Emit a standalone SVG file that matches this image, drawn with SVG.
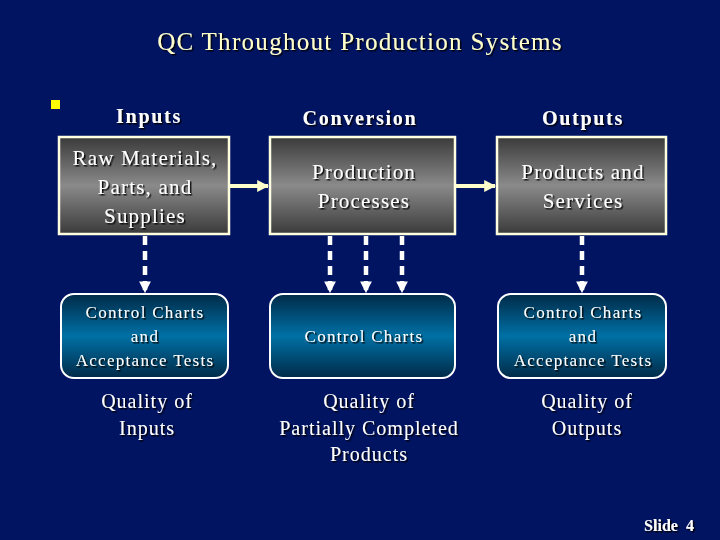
<svg xmlns="http://www.w3.org/2000/svg" width="720" height="540" viewBox="0 0 720 540">
<defs>
<linearGradient id="gGray" x1="0" y1="0" x2="0" y2="1">
<stop offset="0" stop-color="#3a3a3a"/><stop offset="0.5" stop-color="#8a8a8a"/><stop offset="1" stop-color="#3a3a3a"/>
</linearGradient>
<linearGradient id="gTeal" x1="0" y1="0" x2="0" y2="1">
<stop offset="0" stop-color="#002a48"/><stop offset="0.5" stop-color="#0070a4"/><stop offset="1" stop-color="#002a48"/>
</linearGradient>
<filter id="sh" x="-10%" y="-10%" width="120%" height="130%">
<feDropShadow dx="1.5" dy="1.5" stdDeviation="0.3" flood-color="#000" flood-opacity="0.9"/>
</filter>
<marker id="ah" viewBox="0 0 10 10" refX="9" refY="5" markerWidth="3" markerHeight="3" orient="auto" markerUnits="strokeWidth">
<path d="M0,0 L10,5 L0,10 z" fill="#ffffcc"/>
</marker>
<marker id="ahw" viewBox="0 0 10 10" refX="9" refY="5" markerWidth="2.6" markerHeight="2.6" orient="auto" markerUnits="strokeWidth">
<path d="M0,0 L10,5 L0,10 z" fill="#ffffff"/>
</marker>
<style>
text{font-family:"Liberation Serif","Times New Roman",serif;fill:#ffffff;text-anchor:middle;filter:url(#sh)}
.title{font-size:25px;fill:#ffffcc;letter-spacing:1.3px}
.hdr{font-size:20px;font-weight:bold;letter-spacing:1.7px}
.bx{font-size:21px;letter-spacing:1.2px}
.rb{font-size:17px;letter-spacing:1.3px}
.q{font-size:20px;letter-spacing:1px}
.box{fill:url(#gGray);stroke:#ffffe0;stroke-width:2.5}
.rbox{fill:url(#gTeal);stroke:#ffffff;stroke-width:2}
.harr{stroke:#ffffcc;stroke-width:4;fill:none}
.darr{stroke:#ffffff;stroke-width:4.5;stroke-dasharray:9 6;fill:none}
</style>
</defs>
<rect width="720" height="540" fill="#011462"/>
<text class="title" x="360" y="50">QC Throughout Production Systems</text>
<rect x="51" y="100" width="9" height="9" fill="#ffff00"/>
<text class="hdr" x="149" y="123">Inputs</text>
<text class="hdr" x="360" y="125">Conversion</text>
<text class="hdr" x="583" y="125">Outputs</text>

<g id="connectors">
<line class="harr" x1="229" y1="186" x2="268" y2="186" marker-end="url(#ah)"/>
<line class="harr" x1="456" y1="186" x2="495" y2="186" marker-end="url(#ah)"/>
<line class="darr" x1="145" y1="236" x2="145" y2="292" marker-end="url(#ahw)"/>
<line class="darr" x1="330" y1="236" x2="330" y2="292" marker-end="url(#ahw)"/>
<line class="darr" x1="366" y1="236" x2="366" y2="292" marker-end="url(#ahw)"/>
<line class="darr" x1="402" y1="236" x2="402" y2="292" marker-end="url(#ahw)"/>
<line class="darr" x1="582" y1="236" x2="582" y2="292" marker-end="url(#ahw)"/>
</g>

<g id="raw">
<rect class="box" x="59" y="137" width="170" height="97"/>
<text class="bx" x="145" y="165">Raw Materials,</text>
<text class="bx" x="145" y="194">Parts, and</text>
<text class="bx" x="145" y="223">Supplies</text>
</g>
<g id="production">
<rect class="box" x="270" y="137" width="185" height="97"/>
<text class="bx" x="364" y="179">Production</text>
<text class="bx" x="364" y="208">Processes</text>
</g>
<g id="products">
<rect class="box" x="497" y="137" width="169" height="97"/>
<text class="bx" x="583" y="179">Products and</text>
<text class="bx" x="583" y="208">Services</text>
</g>

<g id="cc1">
<rect class="rbox" x="61" y="294" width="167" height="84" rx="13"/>
<text class="rb" x="145" y="318">Control Charts</text>
<text class="rb" x="145" y="342">and</text>
<text class="rb" x="145" y="366">Acceptance Tests</text>
</g>
<g id="cc2">
<rect class="rbox" x="270" y="294" width="185" height="84" rx="13"/>
<text class="rb" x="364" y="342">Control Charts</text>
</g>
<g id="cc3">
<rect class="rbox" x="498" y="294" width="168" height="84" rx="13"/>
<text class="rb" x="583" y="318">Control Charts</text>
<text class="rb" x="583" y="342">and</text>
<text class="rb" x="583" y="366">Acceptance Tests</text>
</g>

<g id="q1">
<text class="q" x="147" y="408">Quality of</text>
<text class="q" x="147" y="435">Inputs</text>
</g>
<g id="q2">
<text class="q" x="369" y="408">Quality of</text>
<text class="q" x="369" y="435">Partially Completed</text>
<text class="q" x="369" y="461">Products</text>
</g>
<g id="q3">
<text class="q" x="587" y="408">Quality of</text>
<text class="q" x="587" y="435">Outputs</text>
</g>
<text x="669" y="531" style="font-size:16px;font-weight:bold;word-spacing:4px">Slide 4</text>
</svg>
